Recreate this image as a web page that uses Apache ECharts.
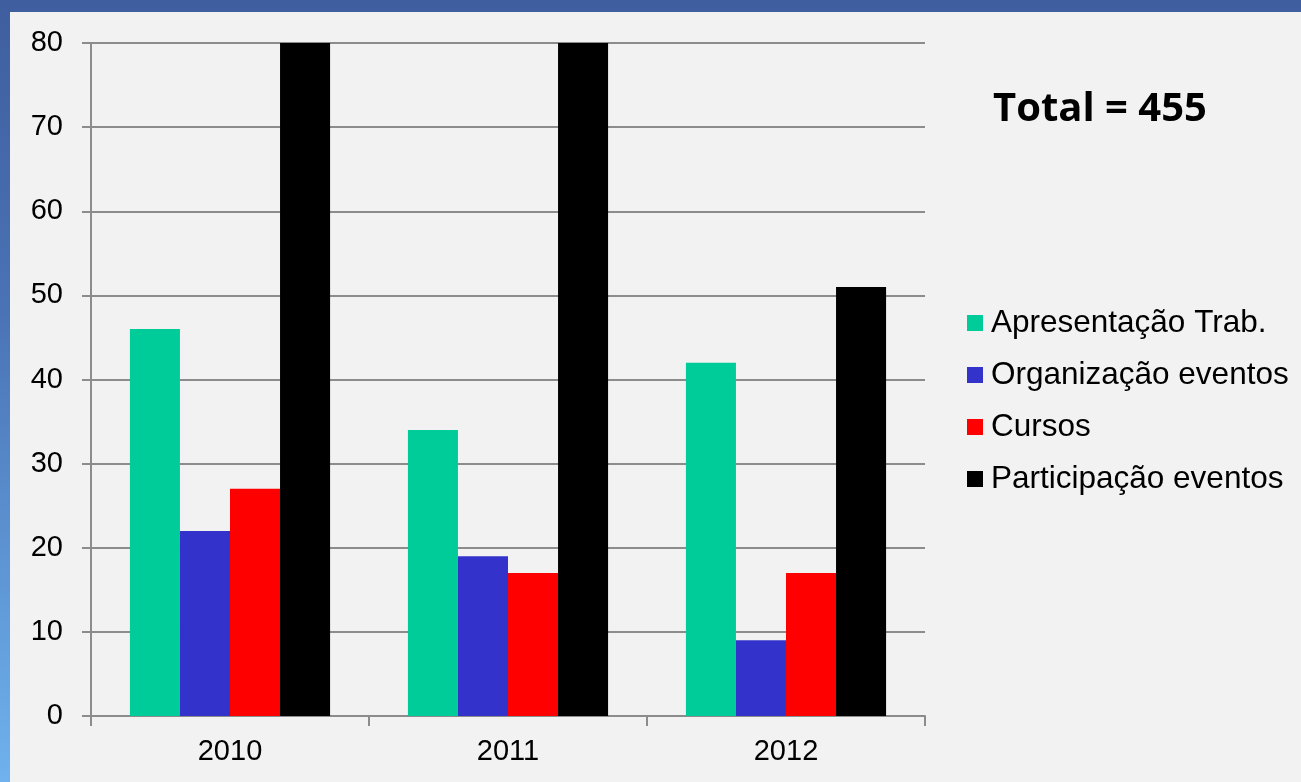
<!DOCTYPE html>
<html><head><meta charset="utf-8">
<script src="https://cdn.jsdelivr.net/npm/echarts@6/dist/echarts.min.js"></script>
<style>
html,body{margin:0;padding:0;width:1301px;height:782px;overflow:hidden;}
body{background:linear-gradient(180deg,#3f5e9f 0%,#4a73b5 40%,#6fb2ee 100%);position:relative;}
#c{position:absolute;left:10px;top:12px;width:1291px;height:770px;background:#f2f2f2;}
</style></head>
<body><div id="c"></div>
<script>
const categories = ['2010', '2011', '2012'];
const apresentacao = [46, 34, 42];
const organizacao = [22, 19, 9];
const cursos = [27, 17, 17];
const participacao = [85, 86, 51];
const seriesNames = ['Apresentação Trab.', 'Organização eventos', 'Cursos', 'Participação eventos'];
const yTicks = {min: 0, max: 80, interval: 10};
const totalLabel = 'Total = 455';

const colors = ['#00cc99', '#3333cc', '#ff0000', '#000000'];
const chart = echarts.init(document.getElementById('c'), null, {renderer: 'canvas'});
const dataSets = [apresentacao, organizacao, cursos, participacao];
chart.setOption({
  backgroundColor: '#f2f2f2',
  animation: false,
  grid: {left: 81, right: 376, top: 31, bottom: 66, containLabel: false},
  title: {
    text: totalLabel, left: 983, top: 78, padding: 0,
    textStyle: {fontFamily: 'Open Sans', fontWeight: 'bold', fontSize: 40, color: '#000'}
  },
  legend: {
    orient: 'vertical', left: 952, top: 290, itemGap: 20,
    itemWidth: 16, itemHeight: 16,
    icon: 'rect',
    textStyle: {fontFamily: 'Liberation Sans', fontSize: 31.5, color: '#000', padding: [0,0,0,3]},
    data: seriesNames
  },
  xAxis: {
    type: 'category', data: categories,
    axisLine: {lineStyle: {color: '#8c8c8c', width: 2}},
    axisTick: {show: true, length: 10, lineStyle: {color: '#8c8c8c', width: 2}},
    axisLabel: {fontFamily: 'Liberation Sans', fontSize: 29, color: '#000', margin: 21}
  },
  yAxis: {
    type: 'value', min: yTicks.min, max: yTicks.max, interval: yTicks.interval,
    axisLine: {show: true, lineStyle: {color: '#8c8c8c', width: 2}},
    axisTick: {show: true, length: 9, lineStyle: {color: '#8c8c8c', width: 2}},
    splitLine: {lineStyle: {color: '#8c8c8c', width: 2}},
    axisLabel: {fontFamily: 'Liberation Sans', fontSize: 29, color: '#000', margin: 28}
  },
  series: seriesNames.map((n, i) => ({
    name: n, type: 'bar', data: dataSets[i], clip: true,
    barGap: '0%', barCategoryGap: '28%',
    itemStyle: {color: colors[i]}
  }))
});
</script></body></html>
